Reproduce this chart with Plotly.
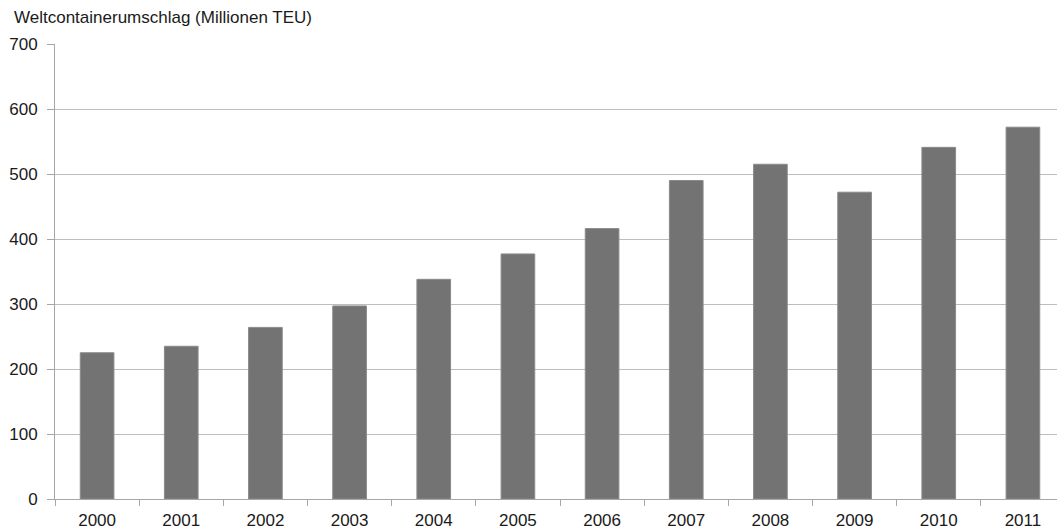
import plotly.graph_objects as go

years = ["2000", "2001", "2002", "2003", "2004", "2005", "2006", "2007", "2008", "2009", "2010", "2011"]
teu = [225, 235, 264, 297, 338, 377, 416, 490, 515, 472, 541, 572]
y_ticks = [0, 100, 200, 300, 400, 500, 600, 700]
title_text = "Weltcontainerumschlag (Millionen TEU)"

fig = go.Figure()
fig.add_trace(go.Bar(
    x=years, y=teu,
    width=0.4,
    marker=dict(color="#737373", line=dict(color="#8a8a8a", width=1)),
))

font = dict(family="Liberation Sans, Arial, sans-serif", size=17, color="#1a1a1a")

fig.update_layout(
    width=1057, height=531,
    margin=dict(l=55, r=0, t=44, b=32),
    paper_bgcolor="white", plot_bgcolor="white",
    showlegend=False,
    font=font,
    bargap=0.6,
)
fig.update_xaxes(
    type="category",
    range=[-0.5, 11.405],
    showgrid=False,
    showline=True, linecolor="#a6a6a6", linewidth=1,
    ticks="outside", tickson="boundaries", ticklen=6, tickcolor="#a6a6a6",
    tickfont=font, ticklabelstandoff=6,
)
fig.update_yaxes(
    range=[0, 700],
    tickvals=y_ticks,
    showgrid=True, gridcolor="#bdbdbd", gridwidth=1,
    showline=True, linecolor="#a6a6a6", linewidth=1,
    ticks="outside", ticklen=7, tickcolor="#a6a6a6",
    tickfont=font, zeroline=False, ticklabelstandoff=6,
)
fig.add_annotation(
    text=title_text, xref="paper", yref="paper",
    x=0, y=1, xshift=-43, yshift=15,
    xanchor="left", yanchor="bottom", showarrow=False,
    font=font,
)
fig.write_html("out.html")
